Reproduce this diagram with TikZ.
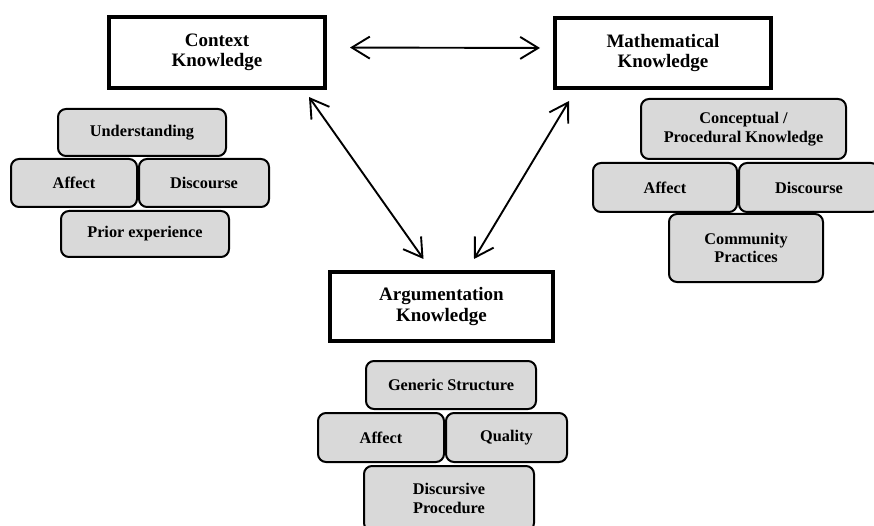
\documentclass[tikz,border=0pt]{standalone}
\usepackage{fontspec}
\setmainfont{Liberation Serif}
\usetikzlibrary{arrows.meta}
\definecolor{facetgray}{HTML}{D9D9D9}
\tikzstyle{knowledge} = [rectangle, line width=4pt, draw=black, fill=white, inner sep=0pt, align=center, font=\fontsize{19}{20.5}\selectfont\bfseries]
\tikzstyle{facet} = [rectangle, rounded corners=8pt, line width=2pt, draw=black, fill=facetgray, inner sep=0pt, align=center, font=\fontsize{16.3}{18.5}\selectfont\bfseries]
\tikzstyle{arrow} = [line width=1.9pt, {Straight Barb[length=18pt,width=22pt]}-{Straight Barb[length=18pt,width=22pt]}]

\begin{document}
\begin{tikzpicture}[x=1pt, y=-1pt]
\useasboundingbox (0,0) rectangle (874,526);

% knowledge boxes
\node (ctx) [knowledge, minimum width=216pt, minimum height=71pt] at (217,52.5) {Context\\Knowledge};
\node (math) [knowledge, minimum width=216pt, minimum height=70pt] at (663,53) {Mathematical\\Knowledge};
\node (arg) [knowledge, minimum width=223pt, minimum height=69pt] at (441.5,306.5) {Argumentation\\Knowledge};

% context facets
\node (cunder) [facet, minimum width=168pt, minimum height=47pt] at (142,132.5) {Understanding};
\node (caffect) [facet, minimum width=126pt, minimum height=48pt] at (74,183) {Affect};
\node (cdisc) [facet, minimum width=130pt, minimum height=48pt] at (204,183) {Discourse};
\node (cprior) [facet, minimum width=168pt, minimum height=46pt] at (145,234) {Prior experience};

% mathematical facets
\node (mconcept) [facet, minimum width=205pt, minimum height=60pt] at (743.5,129) {Conceptual /\\Procedural Knowledge};
\node (maffect) [facet, minimum width=144pt, minimum height=49pt] at (665,187.5) {Affect};
\node (mdisc) [facet, minimum width=140pt, minimum height=49pt] at (809,187.5) {Discourse};
\node (mcomm) [facet, minimum width=154pt, minimum height=68pt] at (746,248) {Community\\Practices};

% argumentation facets
\node (agen) [facet, minimum width=170pt, minimum height=48pt] at (451,385) {Generic Structure};
\node (aaffect) [facet, minimum width=126pt, minimum height=49pt] at (381,437.5) {Affect};
\node (aqual) [facet, minimum width=121pt, minimum height=49pt] at (506.5,437.5) {Quality};
\node (adisc) [facet, minimum width=170pt, minimum height=65pt] at (449,498.5) {Discursive\\Procedure};

\draw [arrow, shorten <=23pt, shorten >=13pt] ([yshift=5pt]ctx.east) -- ([yshift=5pt]math.west);
\draw [arrow] ([xshift=-18pt,yshift=-7pt]ctx.south east) -- ([xshift=-18pt,yshift=11pt]arg.north);
\draw [arrow] ([xshift=32.5pt,yshift=11pt]arg.north) -- ([xshift=16pt,yshift=-11pt]math.south west);

\end{tikzpicture}
\end{document}
